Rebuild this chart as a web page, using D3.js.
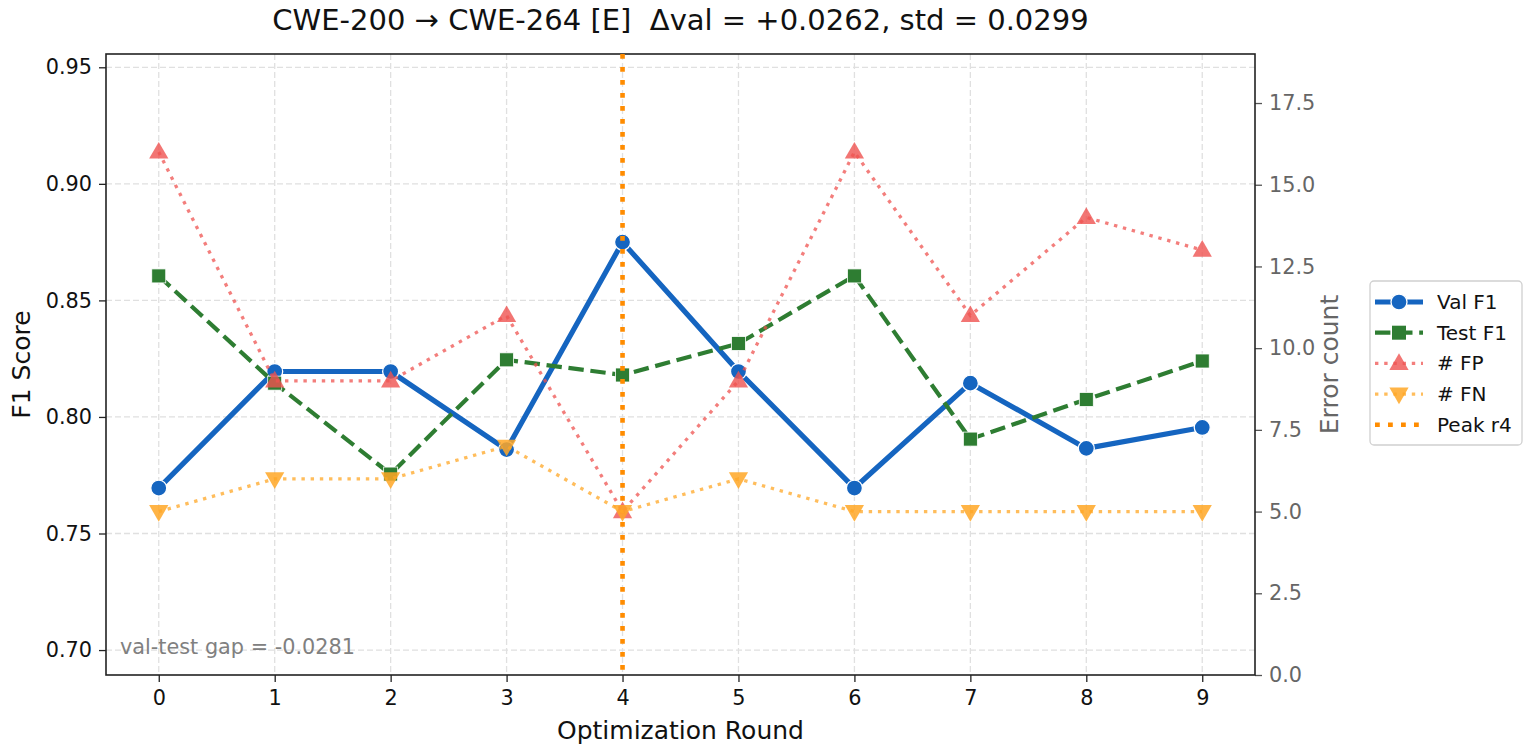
<!DOCTYPE html>
<html>
<head>
<meta charset="utf-8">
<script src="https://cdn.jsdelivr.net/npm/d3@7"></script>
<style>
  body { margin: 0; background: #fff; }
  svg, svg text { font-family: "DejaVu Sans", sans-serif; }
</style>
</head>
<body>
<div id="chart"></div>
<script>
const rounds = [0, 1, 2, 3, 4, 5, 6, 7, 8, 9];
const valF1 = [0.7695, 0.8195, 0.8195, 0.786, 0.875, 0.8195, 0.7695, 0.8145, 0.7865, 0.7955];
const testF1 = [0.8605, 0.8145, 0.7755, 0.8245, 0.818, 0.8315, 0.8605, 0.7905, 0.8075, 0.824];
const numFP = [16, 9, 9, 11, 5, 9, 16, 11, 14, 13];
const numFN = [5, 6, 6, 7, 5, 6, 5, 5, 5, 5];
const peakRound = 4;
const leftTicks = [0.70, 0.75, 0.80, 0.85, 0.90, 0.95];
const rightTicks = [0, 2.5, 5, 7.5, 10, 12.5, 15, 17.5];

const width = 1533;
const height = 753;
const margin = {left: 106, right: 278, top: 54, bottom: 78};
const chartWidth = width - margin.left - margin.right;
const chartHeight = height - margin.top - margin.bottom;

const svg = d3.select("#chart")
     .append("svg")
     .attr("width", width)
     .attr("height", height);

const x = d3.scaleLinear().domain([-0.455, 9.455]).range([0, chartWidth]);
const yLeft = d3.scaleLinear().domain([0.6893, 0.9557]).range([chartHeight, 0]);
const yRight = d3.scaleLinear().domain([0, 19]).range([chartHeight, 0]);

const g = svg.append("g")
     .attr("transform", `translate(${margin.left}, ${margin.top})`);

// grid
g.append("g").selectAll("line").data(rounds).enter().append("line")
     .attr("x1", d => x(d)).attr("x2", d => x(d))
     .attr("y1", 0).attr("y2", chartHeight)
     .attr("stroke", "#e0e0e0").attr("stroke-width", 1.3).attr("stroke-dasharray", "6,3");
g.append("g").selectAll("line").data(leftTicks).enter().append("line")
     .attr("x1", 0).attr("x2", chartWidth)
     .attr("y1", d => yLeft(d)).attr("y2", d => yLeft(d))
     .attr("stroke", "#e0e0e0").attr("stroke-width", 1.3).attr("stroke-dasharray", "6,3");

// axes
const xAxis = g.append("g")
     .attr("transform", `translate(0, ${chartHeight})`)
     .call(d3.axisBottom(x).tickValues(rounds).tickFormat(d3.format("d")).tickSize(7).tickPadding(7));
const leftAxis = g.append("g")
     .call(d3.axisLeft(yLeft).tickValues(leftTicks).tickFormat(d3.format(".2f")).tickSize(7).tickPadding(7));
const rightAxis = g.append("g")
     .attr("transform", `translate(${chartWidth}, 0)`)
     .call(d3.axisRight(yRight).tickValues(rightTicks).tickFormat(d3.format(".1f")).tickSize(7).tickPadding(7));

[xAxis, leftAxis, rightAxis].forEach(a => {
     a.attr("font-family", "DejaVu Sans").attr("font-size", 20.8);
     a.select(".domain").remove();
});
[xAxis, leftAxis].forEach(a => {
     a.selectAll(".tick line").attr("stroke", "#222").attr("stroke-width", 1.3);
     a.selectAll(".tick text").attr("fill", "#111");
});
rightAxis.selectAll(".tick line").attr("stroke", "#555").attr("stroke-width", 1.3);
rightAxis.selectAll(".tick text").attr("fill", "#666");
xAxis.selectAll(".tick text").attr("dy", "0.78em");

// frame
g.append("rect")
     .attr("width", chartWidth).attr("height", chartHeight)
     .attr("fill", "none").attr("stroke", "#222").attr("stroke-width", 1.6);

// val & test lines
const lineLeft = vals => d3.line().x((d, i) => x(rounds[i])).y(d => yLeft(d))(vals);
const lineRight = vals => d3.line().x((d, i) => x(rounds[i])).y(d => yRight(d))(vals);

const valColor = "#1565C0";
const testColor = "#2E7D32";
const fpColor = "#EF5350";
const fnColor = "#FFA726";
const peakColor = "#FF8C00";
const valDash = null;
const testDash = "15.4,6.7";
const errDash = "3.4,5.8";
const peakDash = "4.8,8.2";

g.append("path").attr("d", lineLeft(valF1))
     .attr("fill", "none").attr("stroke", valColor).attr("stroke-width", 5.2)
     .attr("stroke-linejoin", "round");
g.selectAll(".valpt").data(valF1).enter().append("circle")
     .attr("cx", (d, i) => x(rounds[i])).attr("cy", d => yLeft(d)).attr("r", 8)
     .attr("fill", valColor).attr("stroke", "#fff").attr("stroke-width", 1.3);

g.append("path").attr("d", lineLeft(testF1))
     .attr("fill", "none").attr("stroke", testColor).attr("stroke-width", 4.2)
     .attr("stroke-dasharray", testDash);
g.selectAll(".testpt").data(testF1).enter().append("rect")
     .attr("x", (d, i) => x(rounds[i]) - 7).attr("y", d => yLeft(d) - 7)
     .attr("width", 14).attr("height", 14)
     .attr("fill", testColor).attr("stroke", "#fff").attr("stroke-width", 0.8);

// peak line
g.append("line")
     .attr("x1", x(peakRound)).attr("x2", x(peakRound))
     .attr("y1", 0).attr("y2", chartHeight)
     .attr("stroke", peakColor).attr("stroke-width", 4.6).attr("stroke-dasharray", peakDash);

// error counts
const tri = d3.symbol().type(d3.symbolTriangle).size(160);
g.append("path").attr("d", lineRight(numFP))
     .attr("fill", "none").attr("stroke", fpColor).attr("stroke-width", 3.3)
     .attr("stroke-opacity", 0.75).attr("stroke-dasharray", errDash);
g.selectAll(".fppt").data(numFP).enter().append("path")
     .attr("d", tri)
     .attr("transform", (d, i) => `translate(${x(rounds[i])}, ${yRight(d) + 1})`)
     .attr("fill", fpColor).attr("fill-opacity", 0.8);

g.append("path").attr("d", lineRight(numFN))
     .attr("fill", "none").attr("stroke", fnColor).attr("stroke-width", 3.3)
     .attr("stroke-opacity", 0.75).attr("stroke-dasharray", errDash);
g.selectAll(".fnpt").data(numFN).enter().append("path")
     .attr("d", tri)
     .attr("transform", (d, i) => `translate(${x(rounds[i])}, ${yRight(d) - 1}) rotate(180)`)
     .attr("fill", fnColor).attr("fill-opacity", 0.85);

// annotation
g.append("text")
     .attr("x", 14).attr("y", chartHeight - 21)
     .attr("font-size", 20.8).attr("fill", "#808080")
     .text("val-test gap = -0.0281");

// titles
svg.append("text")
     .attr("x", margin.left + chartWidth / 2).attr("y", 30)
     .attr("text-anchor", "middle").attr("font-size", 29).attr("fill", "#111")
     .style("white-space", "pre")
     .text("CWE-200 \u2192 CWE-264 [E]  \u0394val = +0.0262, std = 0.0299");

svg.append("text")
     .attr("x", margin.left + chartWidth / 2).attr("y", 739)
     .attr("text-anchor", "middle").attr("font-size", 25).attr("fill", "#111")
     .text("Optimization Round");

svg.append("text")
     .attr("transform", `translate(30, ${margin.top + chartHeight / 2}) rotate(-90)`)
     .attr("text-anchor", "middle").attr("font-size", 25).attr("fill", "#111")
     .text("F1 Score");

svg.append("text")
     .attr("transform", `translate(1338, ${margin.top + chartHeight / 2}) rotate(-90)`)
     .attr("text-anchor", "middle").attr("font-size", 25).attr("fill", "#666")
     .text("Error count");

// legend
const legendItems = [
     {label: "Val F1", color: valColor, width: 5.2, dash: valDash, marker: "circle"},
     {label: "Test F1", color: testColor, width: 4.2, dash: testDash, marker: "square"},
     {label: "# FP", color: fpColor, width: 3.3, dash: errDash, marker: "up"},
     {label: "# FN", color: fnColor, width: 3.3, dash: errDash, marker: "down"},
     {label: "Peak r4", color: peakColor, width: 4.6, dash: peakDash, marker: null}
];
const legend = svg.append("g").attr("transform", "translate(1370, 281)");
legend.append("rect")
     .attr("width", 152).attr("height", 164).attr("rx", 4)
     .attr("fill", "#fff").attr("stroke", "#d0d0d0").attr("stroke-width", 1.3);
legendItems.forEach((it, i) => {
     const row = legend.append("g").attr("transform", `translate(0, ${21 + i * 30.7})`);
     row.append("line")
          .attr("x1", 5).attr("x2", 53)
          .attr("stroke", it.color).attr("stroke-width", it.width)
          .attr("stroke-dasharray", it.dash)
          .attr("stroke-opacity", it.marker === "up" || it.marker === "down" ? 0.75 : 1);
     if (it.marker === "circle") {
          row.append("circle").attr("cx", 29).attr("r", 8).attr("fill", it.color)
               .attr("stroke", "#fff").attr("stroke-width", 1.3);
     } else if (it.marker === "square") {
          row.append("rect").attr("x", 22).attr("y", -7).attr("width", 14).attr("height", 14)
               .attr("fill", it.color);
     } else if (it.marker === "up") {
          row.append("path").attr("d", tri).attr("transform", "translate(29, 1)")
               .attr("fill", it.color).attr("fill-opacity", 0.8);
     } else if (it.marker === "down") {
          row.append("path").attr("d", tri).attr("transform", "translate(29, -1) rotate(180)")
               .attr("fill", it.color).attr("fill-opacity", 0.85);
     }
     row.append("text")
          .attr("x", 67).attr("y", 7)
          .attr("font-size", 20).attr("fill", "#111")
          .text(it.label);
});
</script>
</body>
</html>
